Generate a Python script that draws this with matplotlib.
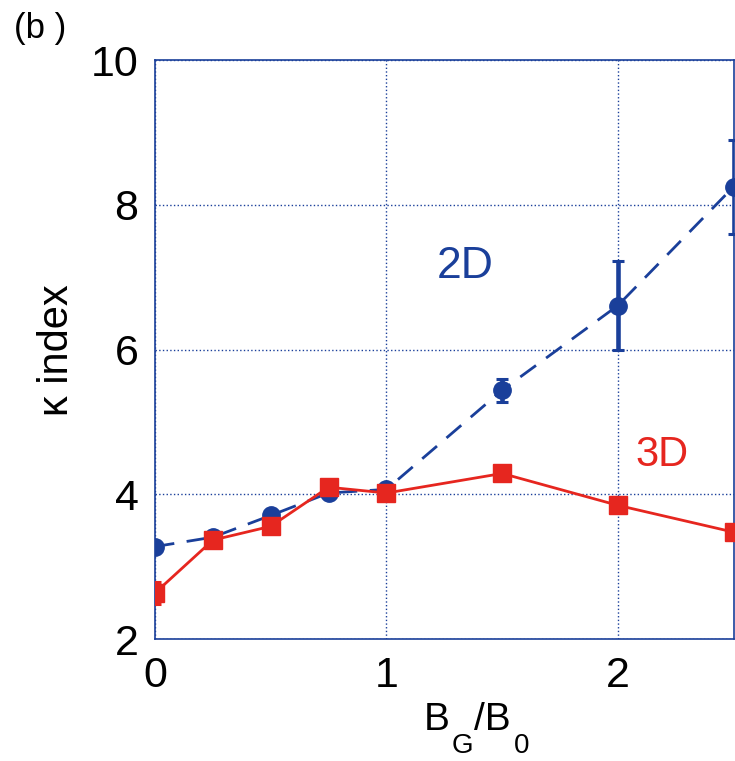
import matplotlib.pyplot as plt
import numpy as np

plt.rcParams['font.family'] = ['Liberation Sans', 'DejaVu Sans']

# kappa index vs guide field strength
bg = [0, 0.25, 0.5, 0.75, 1.0, 1.5, 2.0, 2.5]
kappa_2d = [3.28, 3.41, 3.71, 4.02, 4.07, 5.44, 6.61, 8.25]
err_2d = [0, 0, 0, 0, 0, 0.16, 0.61, 0.65]
kappa_3d = [2.64, 3.37, 3.56, 4.10, 4.02, 4.29, 3.85, 3.48]
err_3d = [0.15, 0, 0, 0, 0, 0, 0, 0]

blue = '#1a3f9a'
red = '#e6261f'

fig = plt.figure(figsize=(7.35, 7.61), dpi=100)
ax = fig.add_axes([0.211, 0.160, 0.787, 0.761])

ax.errorbar(bg, kappa_2d, yerr=err_2d, color=blue, ls=(0, (7, 4.5)), lw=2.0,
            marker='o', ms=12.5, capsize=4.5, elinewidth=3.3, capthick=2.2, zorder=3)
ax.errorbar(bg, kappa_3d, yerr=err_3d, color=red, ls='-', lw=2.0,
            marker='s', ms=12.5, capsize=4.5, elinewidth=3.3, capthick=2.2, zorder=4)

ax.set_xlim(0, 2.5)
ax.set_ylim(2, 10)
ax.set_xticks([0, 1, 2])
ax.set_yticks([2, 4, 6, 8, 10])
ax.tick_params(length=0, labelsize=31, pad=12)
ax.grid(True, color=blue, ls=':', lw=1.0)
for s in ax.spines.values():
    s.set_color(blue)
    s.set_linewidth(1.2)

ax.set_ylabel('\u03ba index', fontsize=30, labelpad=10)

# x label B_G/B_0 built from pieces so the subscripts sit low
fs, fsub = 28, 20
t1 = fig.text(424 / 735, 1 - 730 / 761, 'B', fontsize=fs, va='baseline')
t2 = ax.annotate('G', xy=(1, 0), xycoords=t1, xytext=(1, 3.5),
                 textcoords='offset points', fontsize=fsub, va='top')
t3 = ax.annotate('/B', xy=(1, 0), xycoords=(t2, t1), xytext=(1, 0),
                 textcoords='offset points', fontsize=fs, va='bottom')
ax.annotate('0', xy=(1, 0), xycoords=(t3, t2), xytext=(2, 0),
            textcoords='offset points', fontsize=fsub, va='bottom')

ax.text(1.34, 7.15, '2D', color=blue, fontsize=32, ha='center', va='center')
ax.text(2.19, 4.55, '3D', color=red, fontsize=30, ha='center', va='center')

fig.text(0.019, 0.963, '(b )', fontsize=25, va='center')

fig.savefig('out.png', dpi=100)
